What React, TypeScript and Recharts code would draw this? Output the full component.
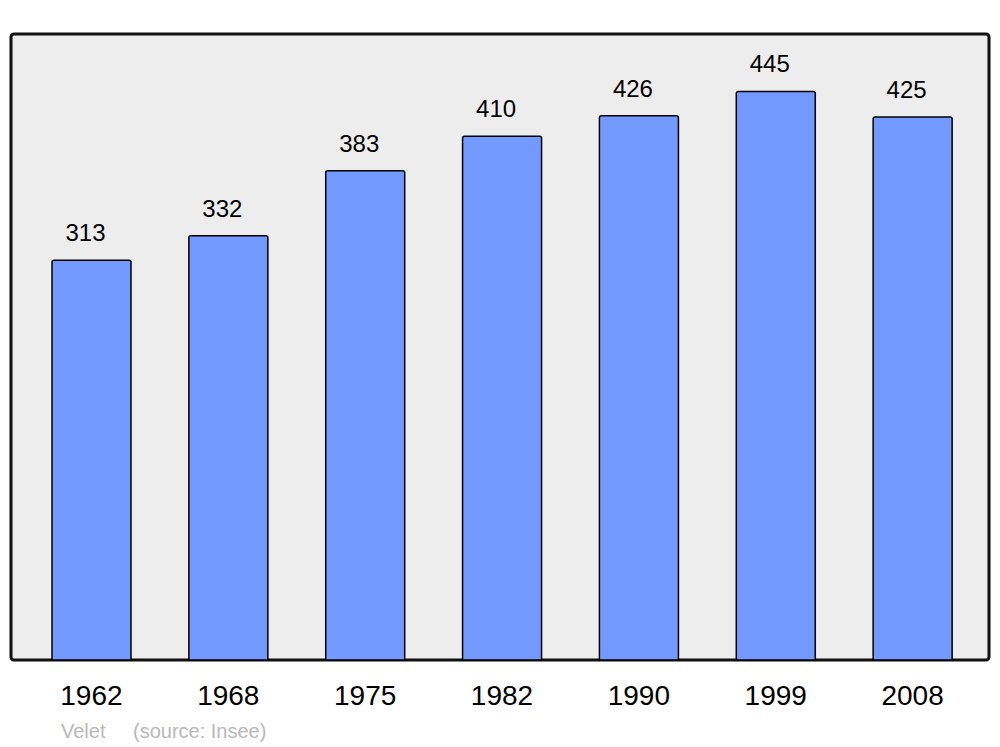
import React from 'react';
import * as R from 'recharts';
import { BarChart, Bar, XAxis, YAxis, LabelList, Customized } from 'recharts';

const years = ['1962', '1968', '1975', '1982', '1990', '1999', '2008'];
const population = [313, 332, 383, 410, 426, 445, 425];
const sourceName = 'Velet';
const sourceNote = '(source: Insee)';

const data = years.map((y, i) => ({ year: y, value: population[i] }));

const FONT = '"Liberation Sans", Arial, sans-serif';

const usePlot: any = (R as any).usePlotArea || (() => ({ x: 11, y: 34, width: 978, height: 626 }));

function Frame() {
  const p = usePlot() || { x: 11, y: 34, width: 978, height: 626 };
  return (
    <g>
      <rect
        x={p.x}
        y={p.y}
        width={p.width}
        height={p.height}
        rx={3}
        ry={3}
        fill="#ededed"
        stroke="#111111"
        strokeWidth={3}
      />
      <text x={p.x + 50} y={p.y + p.height + 78} fontFamily={FONT} fontSize={20} fill="#b8b8b8">
        {sourceName}
      </text>
      <text x={p.x + 122} y={p.y + p.height + 78} fontFamily={FONT} fontSize={20} fill="#b8b8b8">
        {sourceNote}
      </text>
    </g>
  );
}

export default function App() {
  return (
    <div style={{ position: 'absolute', left: 0, top: 0, width: 1000, height: 747, background: '#ffffff' }}>
      <BarChart
        width={1000}
        height={747}
        data={data}
        margin={{ top: 34, right: 11, bottom: 27, left: 11 }}
        barCategoryGap={0}
      >
        <Customized component={<Frame />} />
        <XAxis
          dataKey="year"
          axisLine={false}
          tickLine={false}
          tickSize={0}
          tickMargin={25}
          height={60}
          padding={{ left: 12, right: 8 }}
          interval={0}
          tick={{ fontSize: 28, fill: '#000000', fontFamily: FONT }}
        />
        <YAxis hide domain={[0, 490]} />
        <Bar
          dataKey="value"
          barSize={79}
          fill="#7399ff"
          stroke="#000000"
          strokeWidth={1.5}
          radius={[2, 2, 0, 0]}
          isAnimationActive={false}
        >
          <LabelList
            dataKey="value"
            position="top"
            offset={19}
            dx={-6}
            fill="#000000"
            fontSize={24}
            fontFamily={FONT}
          />
        </Bar>
      </BarChart>
    </div>
  );
}
